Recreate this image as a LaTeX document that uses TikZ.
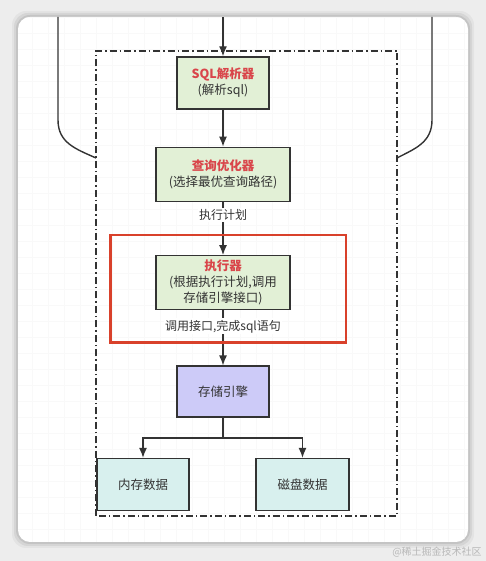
\documentclass[tikz,border=0pt]{standalone}
\usepackage{fontspec}
\setmainfont{Noto Sans CJK SC}
\usetikzlibrary{positioning,arrows.meta,calc}
\definecolor{pagebg}{HTML}{EDEDED}
\definecolor{boxline}{HTML}{333333}
\definecolor{stepgreen}{HTML}{E2F0D6}
\definecolor{steptitle}{HTML}{D9454A}
\definecolor{enginefill}{HTML}{CDCBF8}
\definecolor{datafill}{HTML}{D8F0EE}
\definecolor{framered}{HTML}{D9412B}
\definecolor{txtgrey}{HTML}{333333}
\definecolor{markgrey}{HTML}{B8B8B8}
\tikzset{
  stepbox/.style ={rectangle, draw=boxline, line width=1.4pt, fill=stepgreen,
                   text=txtgrey, align=center, font=\fontsize{12.5}{16}\selectfont,
                   minimum height=52pt, inner sep=2pt},
  enginebox/.style={stepbox, fill=enginefill, minimum width=92pt, minimum height=51pt},
  databox/.style ={stepbox, fill=datafill, minimum width=92pt},
  flow/.style    ={-{Latex[length=10pt,width=8pt]}, line width=1.4pt, draw=boxline},
  wire/.style    ={line width=1.4pt, draw=boxline},
  lbl/.style     ={fill=white, text=txtgrey, font=\fontsize{12}{14}\selectfont, inner sep=1.5pt}
}

\begin{document}
\begin{tikzpicture}[x=1pt,y=1pt,node distance=37pt]
  % page and card
  \fill[pagebg] (0,0) rectangle (486,561);
  \useasboundingbox (0,0) rectangle (486,561);
  \foreach \s/\o in {6/0.04,4/0.06,2/0.08}
    \fill[black,opacity=\o,rounded corners=14pt] (18-\s,19-\s) rectangle (468+\s,544+\s);
  \fill[white,rounded corners=12pt] (18,19) rectangle (468,544);
  \begin{scope}
    \clip[rounded corners=12pt] (18,19) rectangle (468,544);
    \draw[black!2.5,step=16pt] (18,19) grid (468,544);
  \end{scope}

  % dash-dot frame
  \draw[boxline,line width=1.1pt,dash pattern=on 7pt off 3pt on 1.5pt off 3pt]
    (96,45) rectangle (397,510);

  % side curves
  \coordinate (lt) at (58,544);
  \coordinate (lb) at (96,403);
  \coordinate (rt) at (432,544);
  \coordinate (rb) at (397,403);
  \draw[wire] (lt) -- (58,441) .. controls (58,418) and (76,412) .. (lb);
  \draw[wire] (rt) -- (432,441) .. controls (432,418) and (414,412) .. (rb);

  % stages
  \node[stepbox,minimum width=92pt] (sqlp) at (223,478)
    {{\color{steptitle}\bfseries SQL解析器}\\(解析sql)};
  \node[stepbox,minimum width=134pt,minimum height=54pt,below=of sqlp] (opt)
    {{\color{steptitle}\bfseries 查询优化器}\\(选择最优查询路径)};
  \node[stepbox,minimum width=134pt,minimum height=54pt,below=53pt of opt] (exec)
    {{\color{steptitle}\bfseries 执行器}\\(根据执行计划,调用\\存储引擎接口)};
  \node[enginebox,below=55pt of exec] (eng) {存储引擎};
  \node[databox,below=40pt of eng,xshift=-80pt] (mem) {内存数据};
  \node[databox,below=40pt of eng,xshift=79.5pt,minimum width=93pt] (disk) {磁盘数据};

  \coordinate (entry) at (223,544);
  \draw[flow] (entry) -- (sqlp);
  \draw[flow] (sqlp) -- (opt);
  \draw[flow] (opt) -- (exec) node[lbl,pos=0.25] {执行计划};
  \draw[flow] (exec) -- (eng) node[lbl,pos=0.29] {调用接口,完成sql语句};
  \draw[wire] (eng.south) -- ++(0,-20pt) coordinate (fork);
  \draw[flow] (fork) -| (mem.north);
  \draw[flow] (fork) -| (disk.north);

  % highlight round the executor
  \draw[framered,line width=2.4pt] ($(exec.north west)+(-45pt,20pt)$) rectangle ($(exec.south east)+(55pt,-32pt)$);

  \node[text=markgrey,font=\fontsize{10}{12}\selectfont,inner sep=0pt] (mark) at (437,9) {@稀土掘金技术社区};
\end{tikzpicture}
\end{document}
